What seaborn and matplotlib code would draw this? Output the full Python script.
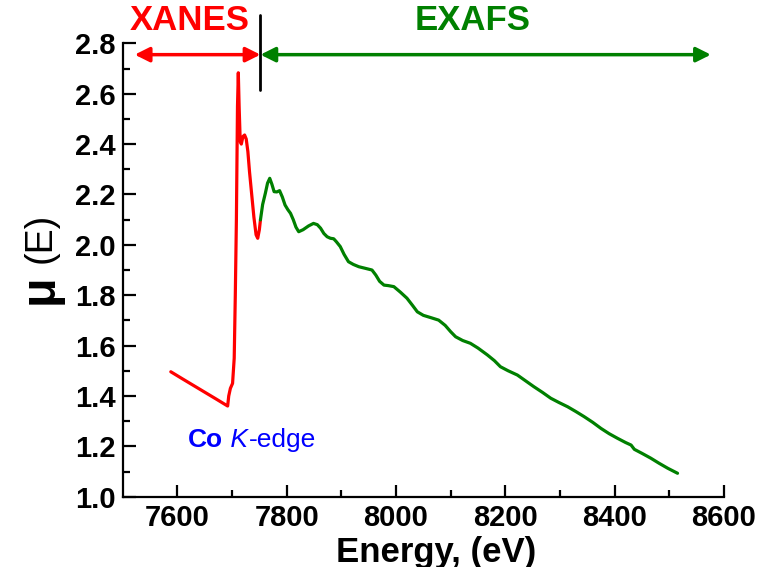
import numpy as np
import pandas as pd
import matplotlib
matplotlib.use("Agg")
import matplotlib.pyplot as plt
import seaborn as sns

# ---- data ----
xanes_energy = [7588, 7610, 7640, 7670, 7692, 7694, 7697, 7701, 7704, 7706, 7708,
                7710, 7711.5, 7713, 7715, 7717, 7720, 7723, 7726, 7729, 7732, 7736,
                7740, 7744, 7747, 7750, 7752]
xanes_mu = [1.496, 1.467, 1.428, 1.389, 1.360, 1.40, 1.43, 1.45, 1.55, 1.80, 2.10,
            2.55, 2.683, 2.55, 2.41, 2.40, 2.43, 2.436, 2.42, 2.37, 2.29, 2.20,
            2.11, 2.04, 2.026, 2.06, 2.099]

exafs_energy = [7752, 7756, 7761, 7765, 7769, 7773, 7777, 7782, 7787, 7792, 7797,
                7802, 7807, 7812, 7817, 7822, 7830, 7840, 7849, 7856, 7862, 7868,
                7874, 7880, 7886, 7891, 7898, 7905, 7913, 7922, 7932, 7945, 7956,
                7963, 7970, 7978, 7986, 7996, 8008, 8020, 8030, 8039, 8050, 8065,
                8078, 8090, 8100, 8109, 8122, 8136, 8150, 8167, 8180, 8191, 8205,
                8222, 8237, 8252, 8268, 8283, 8298, 8314, 8329, 8344, 8360, 8375,
                8390, 8405, 8420, 8430, 8436, 8450, 8466, 8481, 8497, 8515]
exafs_mu = [2.099, 2.16, 2.205, 2.245, 2.264, 2.24, 2.211, 2.21, 2.215, 2.19, 2.158,
            2.14, 2.125, 2.10, 2.07, 2.052, 2.06, 2.075, 2.085, 2.08, 2.066, 2.045,
            2.032, 2.026, 2.024, 2.012, 1.993, 1.962, 1.933, 1.922, 1.913, 1.906, 1.900,
            1.88, 1.855, 1.840, 1.838, 1.834, 1.812, 1.788, 1.760, 1.734, 1.720, 1.710,
            1.701, 1.680, 1.655, 1.635, 1.620, 1.609, 1.590, 1.563, 1.540, 1.516, 1.500,
            1.483, 1.460, 1.437, 1.414, 1.391, 1.374, 1.357, 1.338, 1.318, 1.295, 1.271,
            1.250, 1.232, 1.215, 1.205, 1.188, 1.172, 1.153, 1.133, 1.113, 1.093]

x_ticks = [7600, 7800, 8000, 8200, 8400, 8600]
y_ticks = [1.0, 1.2, 1.4, 1.6, 1.8, 2.0, 2.2, 2.4, 2.6, 2.8]

edge_split = 7752          # XANES / EXAFS boundary
xanes_start = 7522
exafs_end = 8576
arrow_level = 2.755

df = pd.concat([
    pd.DataFrame({"Energy": xanes_energy, "mu": xanes_mu, "region": "XANES"}),
    pd.DataFrame({"Energy": exafs_energy, "mu": exafs_mu, "region": "EXAFS"}),
], ignore_index=True)

sns.set_theme(style="ticks")
plt.rcParams["font.family"] = ["Liberation Sans", "DejaVu Sans"]
plt.rcParams["text.color"] = "black"
plt.rcParams["axes.labelcolor"] = "black"

RED = "#ff0000"
GREEN = "#008000"

fig = plt.figure(figsize=(7.63, 5.67), dpi=100)
ax = fig.add_axes([0.1608, 0.1240, 0.9489 - 0.1608, 0.9236 - 0.1240])

sns.lineplot(data=df, x="Energy", y="mu", hue="region", sort=False,
             palette={"XANES": RED, "EXAFS": GREEN}, linewidth=2.3,
             legend=False, ax=ax, estimator=None)

ax.set_xlim(7500, 8600)
ax.set_ylim(1.0, 2.8)
ax.set_xticks(x_ticks)
ax.set_yticks(y_ticks)
ax.set_xticks(np.arange(7700, 8600, 200), minor=True)
ax.set_yticks(np.arange(1.1, 2.8, 0.2), minor=True)
ax.set_xticklabels([str(t) for t in x_ticks])
ax.set_yticklabels([f"{t:.1f}" for t in y_ticks])

for s in ["top", "right"]:
    ax.spines[s].set_visible(False)
for s in ["left", "bottom"]:
    ax.spines[s].set_linewidth(1.6)
    ax.spines[s].set_color("black")

ax.tick_params(axis="both", which="major", direction="in", length=9, width=1.6,
               labelsize=21, pad=5, colors="black")
ax.tick_params(axis="both", which="minor", direction="in", length=5, width=1.6,
               colors="black")
for lab in ax.get_xticklabels() + ax.get_yticklabels():
    lab.set_fontweight("bold")

ax.set_xlabel("")
ax.set_ylabel("")
fig.text(0.571, -0.004, "Energy, (eV)", fontsize=25, fontweight="bold",
         color="black", ha="center", va="bottom")
fig.text(0.053, 0.490, "\u03bc", fontsize=35, fontweight="bold", color="black",
         rotation=90, ha="center", va="center")
fig.text(0.053, 0.580, "(E)", fontsize=27, rotation=90, color="black",
         ha="center", va="center")

# Co K-edge label (pieces chained so they sit side by side)
t_co = ax.text(7620, 1.197, "Co", color="blue", fontsize=19, fontweight="bold",
               ha="left", va="baseline")
t_k = ax.annotate(" K", xy=(1, 0), xycoords=t_co, color="blue", fontsize=19,
                  fontstyle="italic", ha="left", va="bottom")
ax.annotate("-edge", xy=(1, 0), xycoords=t_k, color="blue", fontsize=19,
            ha="left", va="bottom")

# region arrows
ax.annotate("", xy=(xanes_start, arrow_level), xytext=(edge_split, arrow_level),
            arrowprops=dict(arrowstyle="<|-|>", color=RED, lw=2.5,
                            mutation_scale=22, shrinkA=0, shrinkB=0),
            annotation_clip=False)
ax.annotate("", xy=(edge_split, arrow_level), xytext=(exafs_end, arrow_level),
            arrowprops=dict(arrowstyle="<|-|>", color=GREEN, lw=2.5,
                            mutation_scale=22, shrinkA=0, shrinkB=0),
            annotation_clip=False)
ax.plot([edge_split, edge_split], [2.614, 2.912], color="black", lw=2,
        clip_on=False)

ax.text(7623, 2.892, "XANES", color=RED, fontsize=25, fontweight="bold",
        ha="center", va="center", clip_on=False)
ax.text(8140, 2.892, "EXAFS", color=GREEN, fontsize=25, fontweight="bold",
        ha="center", va="center", clip_on=False)

fig.savefig("out.png", dpi=100)
